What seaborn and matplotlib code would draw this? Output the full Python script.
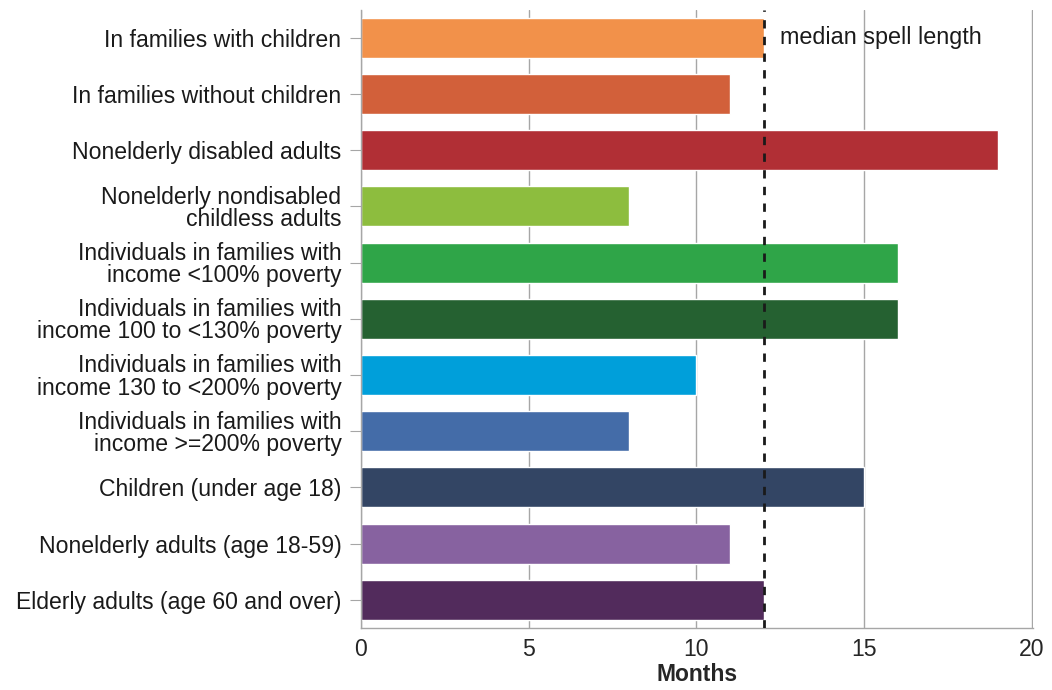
import matplotlib
matplotlib.use("Agg")
import matplotlib.pyplot as plt
import seaborn as sns
import pandas as pd

# categories and months
groups = [
    "In families with children",
    "In families without children",
    "Nonelderly disabled adults",
    "Nonelderly nondisabled\nchildless adults",
    "Individuals in families with\nincome <100% poverty",
    "Individuals in families with\nincome 100 to <130% poverty",
    "Individuals in families with\nincome 130 to <200% poverty",
    "Individuals in families with\nincome >=200% poverty",
    "Children (under age 18)",
    "Nonelderly adults (age 18-59)",
    "Elderly adults (age 60 and over)",
]
months = [12, 11, 19, 8, 16, 16, 10, 8, 15, 11, 12]
bar_colors = ["#F2914A", "#D2603A", "#B12F35", "#8DBD3E", "#2FA548",
              "#256131", "#009FDA", "#446CA8", "#334564", "#8762A0", "#522B5C"]
median_spell = 12

df = pd.DataFrame({"group": groups, "months": months})

sns.set_style("white")
plt.rcParams["font.family"] = ["Liberation Sans", "DejaVu Sans"]

fig = plt.figure(figsize=(10.52, 6.9), dpi=100)
ax = fig.add_axes([0.343, 0.09, 0.639, 0.896])

sns.barplot(data=df, x="months", y="group", hue="group", palette=bar_colors,
            legend=False, width=0.71, saturation=1, ax=ax)

ax.set_xlim(0, 20.03)
ax.set_xticks([0, 5, 10, 15, 20])
ax.xaxis.grid(True, color="#a6a6a6", linewidth=1)
ax.set_axisbelow(True)

# median line
ax.axvline(median_spell, color="#1a1a1a", linestyle=(0, (3, 3)), linewidth=2, zorder=5)
ax.text(median_spell + 0.5, 0, "median spell length", fontsize=16.8,
        va="center", ha="left", color="#1a1a1a")

for s in ["top", "right"]:
    ax.spines[s].set_visible(False)
for s in ["left", "bottom"]:
    ax.spines[s].set_color("#a6a6a6")
    ax.spines[s].set_linewidth(1)

ax.tick_params(axis="y", length=8, color="#a6a6a6", labelsize=16.6, pad=6,
               left=True)
ax.tick_params(axis="x", length=0, labelsize=16.6, pad=7)
for lab in ax.get_yticklabels():
    lab.set_linespacing(0.95)
    lab.set_color("#1a1a1a")
ax.set_ylabel("")
ax.set_xlabel("Months", fontsize=16.5, fontweight="bold", labelpad=2)

fig.savefig("out.png", dpi=100)
